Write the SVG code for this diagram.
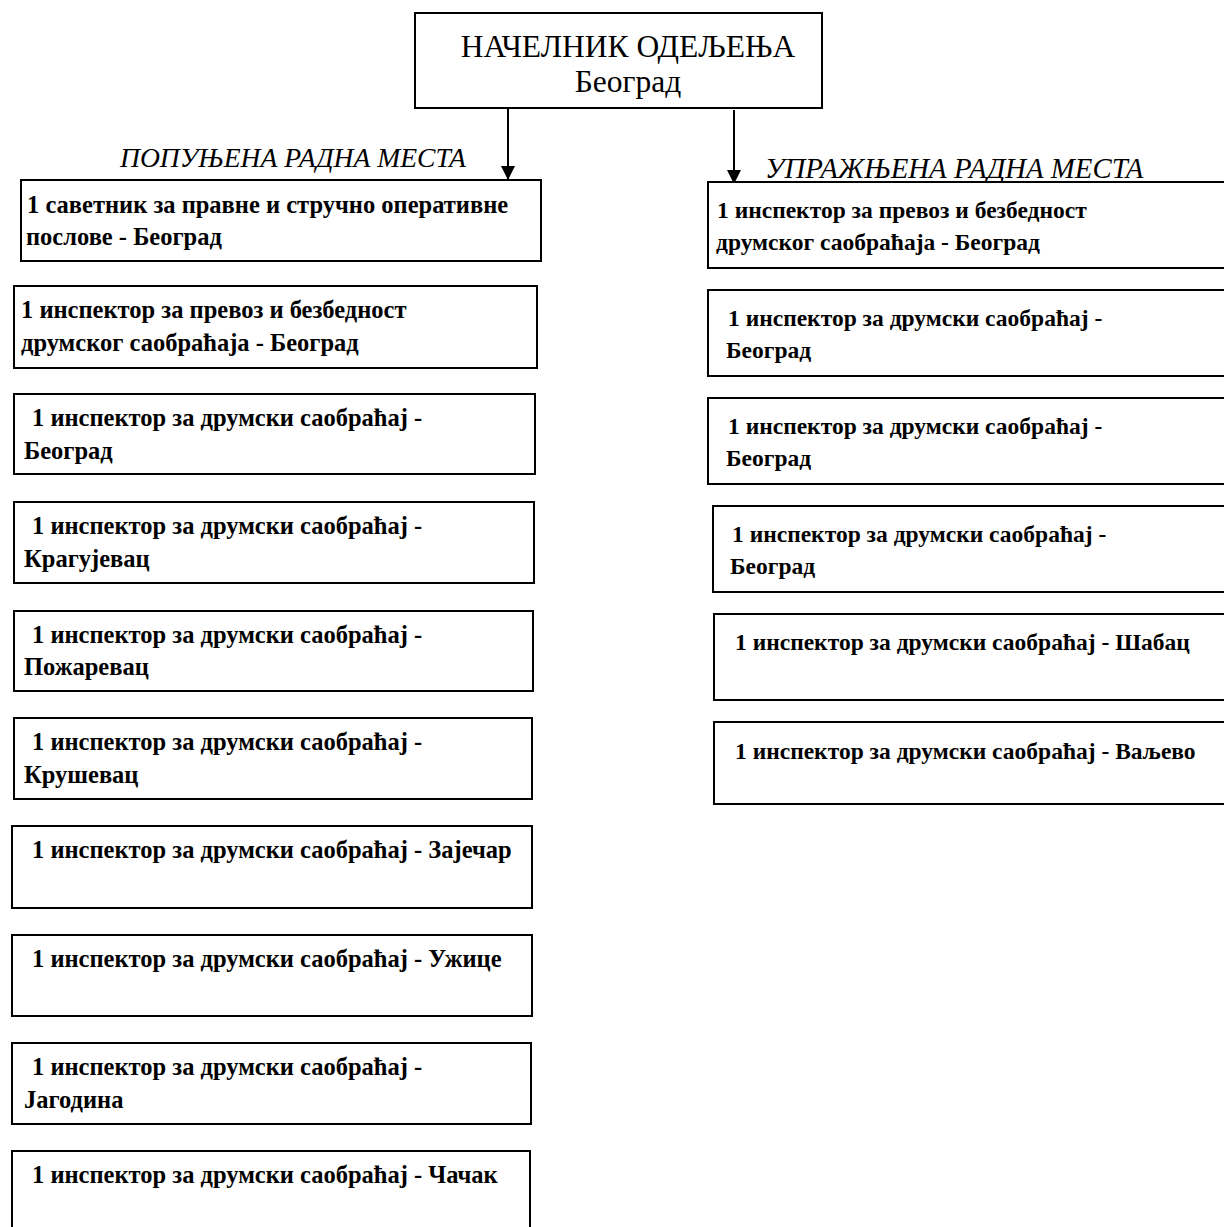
<svg xmlns="http://www.w3.org/2000/svg" width="1224" height="1227" viewBox="0 0 1224 1227">
<style>
.box{fill:#fff;stroke:#000;stroke-width:2}
.t{font-family:"Liberation Serif","Times New Roman",serif;font-size:24.5px;font-weight:bold;fill:#000}
.r{font-size:23.5px}
.h{font-family:"Liberation Serif","Times New Roman",serif;font-size:31.5px;fill:#000}
.lab{font-family:"Liberation Serif","Times New Roman",serif;font-size:27.6px;font-style:italic;fill:#000}
.c{stroke:#000;stroke-width:2;fill:none}
</style>
<defs>
<marker id="ah" markerWidth="14" markerHeight="14" refX="14" refY="7" orient="auto" markerUnits="userSpaceOnUse" viewBox="0 0 14 14">
<path d="M0,0 L14,7 L0,14 Z" fill="#000"/>
</marker>
</defs>
<rect width="1224" height="1227" fill="#fff"/>
<g id="head">
<rect class="box" x="415" y="13" width="407" height="95"/>
<text class="h" x="628" y="57" text-anchor="middle">НАЧЕЛНИК ОДЕЉЕЊА</text>
<text class="h" x="628" y="92" text-anchor="middle">Београд</text>
</g>
<g id="connectors">
<line class="c" x1="508" y1="108" x2="508" y2="180" marker-end="url(#ah)"/>
<line class="c" x1="734" y1="110" x2="734" y2="184" marker-end="url(#ah)"/>
</g>
<text class="lab" x="120" y="167">ПОПУЊЕНА РАДНА МЕСТА</text>
<text class="lab" x="765" y="178" style="font-size:28.8px">УПРАЖЊЕНА РАДНА МЕСТА</text>
<g id="l1"><rect class="box" x="21" y="180" width="520" height="81"/><text class="t" x="27" y="213">1 саветник за правне и стручно оперативне</text><text class="t" x="26" y="245">послове - Београд</text></g>
<g id="l2"><rect class="box" x="14" y="286" width="523" height="82"/><text class="t" x="21" y="318">1 инспектор за превоз и безбедност</text><text class="t" x="21" y="351">друмског саобраћаја - Београд</text></g>
<g id="l3"><rect class="box" x="14" y="394" width="521" height="80"/><text class="t" x="32" y="426">1 инспектор за друмски саобраћај -</text><text class="t" x="24" y="459">Београд</text></g>
<g id="l4"><rect class="box" x="14" y="502" width="520" height="81"/><text class="t" x="32" y="534">1 инспектор за друмски саобраћај -</text><text class="t" x="24" y="567">Крагујевац</text></g>
<g id="l5"><rect class="box" x="14" y="611" width="519" height="80"/><text class="t" x="32" y="643">1 инспектор за друмски саобраћај -</text><text class="t" x="24" y="675">Пожаревац</text></g>
<g id="l6"><rect class="box" x="14" y="718" width="518" height="81"/><text class="t" x="32" y="750">1 инспектор за друмски саобраћај -</text><text class="t" x="24" y="783">Крушевац</text></g>
<g id="l7"><rect class="box" x="12" y="826" width="520" height="82"/><text class="t" x="32" y="858">1 инспектор за друмски саобраћај - Зајечар</text></g>
<g id="l8"><rect class="box" x="12" y="935" width="520" height="81"/><text class="t" x="32" y="967">1 инспектор за друмски саобраћај - Ужице</text></g>
<g id="l9"><rect class="box" x="12" y="1043" width="519" height="81"/><text class="t" x="32" y="1075">1 инспектор за друмски саобраћај -</text><text class="t" x="24" y="1108">Јагодина</text></g>
<g id="l10"><rect class="box" x="12" y="1151" width="518" height="90"/><text class="t" x="32" y="1183">1 инспектор за друмски саобраћај - Чачак</text></g>
<g id="r1"><rect class="box" x="708" y="182" width="530" height="86"/><text class="t r" x="717" y="218">1 инспектор за превоз и безбедност</text><text class="t r" x="716" y="250">друмског саобраћаја - Београд</text></g>
<g id="r2"><rect class="box" x="708" y="290" width="530" height="86"/><text class="t r" x="728" y="326">1 инспектор за друмски саобраћај -</text><text class="t r" x="726" y="358">Београд</text></g>
<g id="r3"><rect class="box" x="708" y="398" width="530" height="86"/><text class="t r" x="728" y="434">1 инспектор за друмски саобраћај -</text><text class="t r" x="726" y="466">Београд</text></g>
<g id="r4"><rect class="box" x="713" y="506" width="525" height="86"/><text class="t r" x="732" y="542">1 инспектор за друмски саобраћај -</text><text class="t r" x="730" y="574">Београд</text></g>
<g id="r5"><rect class="box" x="714" y="614" width="524" height="86"/><text class="t r" x="735" y="650">1 инспектор за друмски саобраћај - Шабац</text></g>
<g id="r6"><rect class="box" x="714" y="722" width="524" height="82"/><text class="t r" x="735" y="759">1 инспектор за друмски саобраћај - Ваљево</text></g>
</svg>
